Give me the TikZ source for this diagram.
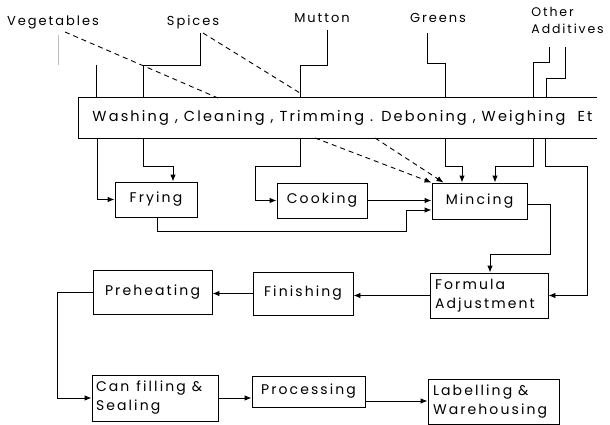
\documentclass[tikz,border=0pt]{standalone}
\usepackage{fontspec}
\setmainfont{Poppins}[LetterSpace=15]
\usetikzlibrary{arrows.meta}
\begin{document}
\begin{tikzpicture}[x=1pt,y=-1pt,line width=0.9pt,
  box/.style={draw,inner sep=0pt,font=\fontsize{14}{19}\selectfont},
  lbl/.style={inner sep=0pt,font=\fontsize{13}{18}\selectfont},
  arr/.style={-{Latex[length=7pt,width=5.5pt]}},
  dsh/.style={dashed,dash pattern=on 5pt off 4pt},
  faint/.style={black!25}]
\useasboundingbox (0,0) rectangle (610,425);
% top labels
\node[lbl] (veg) at (53,22) {Vegetables};
\node[lbl] (spi) at (193,22) {Spices};
\node[lbl] (mut) at (322,18) {Mutton};
\node[lbl] (gre) at (438,18) {Greens};
\node[lbl,align=left,anchor=north west,font=\fontsize{12.5}{17}\selectfont] (oth) at (531,7) {Other\\Additives};
% bar
\node[minimum width=518pt,minimum height=40pt,inner sep=0pt] (bar) at (338,118) {};
\node[lbl,anchor=west,font=\fontsize{14.5}{18}\selectfont] (bartext) at (92,118) {Washing , Cleaning , Trimming . Deboning , Weighing\ \ Et};
\draw (bar.north east) -- (bar.north west) -- (bar.south west) -- (bar.south east);
% boxes
\node[box,minimum width=82pt,minimum height=35pt] (fry) at (156,199.5) {Frying};
\node[box,minimum width=90pt,minimum height=35pt] (cook) at (322,200.5) {Cooking};
\node[box,minimum width=95pt,minimum height=36pt] (minc) at (479.5,201) {Mincing};
\node[box,minimum width=118pt,minimum height=45pt,align=left,text width=108pt] (form) at (489,295.5) {Formula\\Adjustment};
\node[box,minimum width=100pt,minimum height=43pt] (fin) at (303,293.5) {Finishing};
\node[box,minimum width=119pt,minimum height=44pt] (pre) at (152.5,292) {Preheating};
\node[box,minimum width=126pt,minimum height=46pt,align=left,text width=118pt] (can) at (155,398) {Can\hspace{7pt}filling\hspace{6pt}\&\\Sealing};
\node[box,minimum width=113pt,minimum height=31pt] (proc) at (308.5,391.5) {Processing};
\node[box,minimum width=131pt,minimum height=45pt,align=left,text width=121pt] (lab) at (493.5,402) {Labelling\hspace{6pt}\&\\Warehousing};
% inputs to bar
\coordinate (v0) at (58,35); \coordinate (v1) at (58,65);
\draw[faint] (v0) -- (v1);
\coordinate (v2) at (96,65);
\draw (v2) -- (v2 |- bar.north);
\coordinate (s0) at (200,33); \coordinate (s1) at (143,65);
\draw (s0) |- (s1) -- (s1 |- bar.north);
\coordinate (m0) at (327,30); \coordinate (m1) at (300,65);
\draw (m0) |- (m1) -- (m1 |- bar.north);
\coordinate (g0) at (427,33); \coordinate (g1) at (445,63);
\draw (g0) |- (g1) -- (g1 |- bar.north);
\coordinate (o0) at (549,47); \coordinate (o1) at (533,62);
\draw (o0) |- (o1) -- (o1 |- bar.north);
\coordinate (p0) at (565,47); \coordinate (p1) at (546,78);
\draw (p0) |- (p1) -- (p1 |- bar.north);
% dashed
\coordinate (d0) at (65,32); \coordinate (d1) at (218,98);
\draw[dsh] (d0) -- (d1);
\coordinate (d2) at (203,33); \coordinate (d3) at (300,93);
\draw[dsh] (d2) -- (d3);
\coordinate (d4) at (315,138); \coordinate (d5) at (375,138);
\draw[dsh,arr] (d4) -- (minc.north west);
\draw[dsh,arr] (d5) -- ([xshift=12pt]minc.north west);
% below bar
\coordinate (b1) at (97,138);
\draw[arr] (b1) |- (fry.west);
\coordinate (b2) at (143,138); \coordinate (b2a) at (173,166);
\draw[arr] (b2) |- (b2a) -- (b2a |- fry.north);
\coordinate (b3) at (300,138); \coordinate (b3a) at (255,166);
\draw[arr] (b3) |- (b3a) |- (cook.west);
\coordinate (b4) at (445,138); \coordinate (b4a) at (462,166);
\draw[arr] (b4) |- (b4a) -- (b4a |- minc.north);
\coordinate (b5) at (533,138); \coordinate (b5a) at (495,166);
\draw[arr] (b5) |- (b5a) -- (b5a |- minc.north);
\coordinate (b6) at (545,138); \coordinate (b6a) at (587,166);
\draw[arr] (b6) |- (b6a) |- (form.east);
% flows
\draw[arr] (cook.east) -- (cook.east -| minc.west);
\coordinate (f1) at (157,231); \coordinate (f2) at (406,210);
\draw[arr] (fry.south -| f1) |- (f2 |- f1) -- (f2) -- (f2 -| minc.west);
\coordinate (mc1) at (550,254); \coordinate (mc2) at (490,254);
\draw[arr] ([yshift=-3pt]minc.east) -| (mc1) -- (mc2) -- (mc2 |- form.north);
\draw[arr] (form.west) -- (form.west -| fin.east);
\draw[arr] (fin.west) -- (fin.west -| pre.east);
\coordinate (pl) at (57,292);
\draw[arr] (pre.west) -- (pl) |- (can.west);
\draw[arr] (can.east) -- (can.east -| proc.west);
\coordinate (pr) at (365,401);
\draw[arr] (pr) -- (pr -| lab.west);
\end{tikzpicture}
\end{document}
